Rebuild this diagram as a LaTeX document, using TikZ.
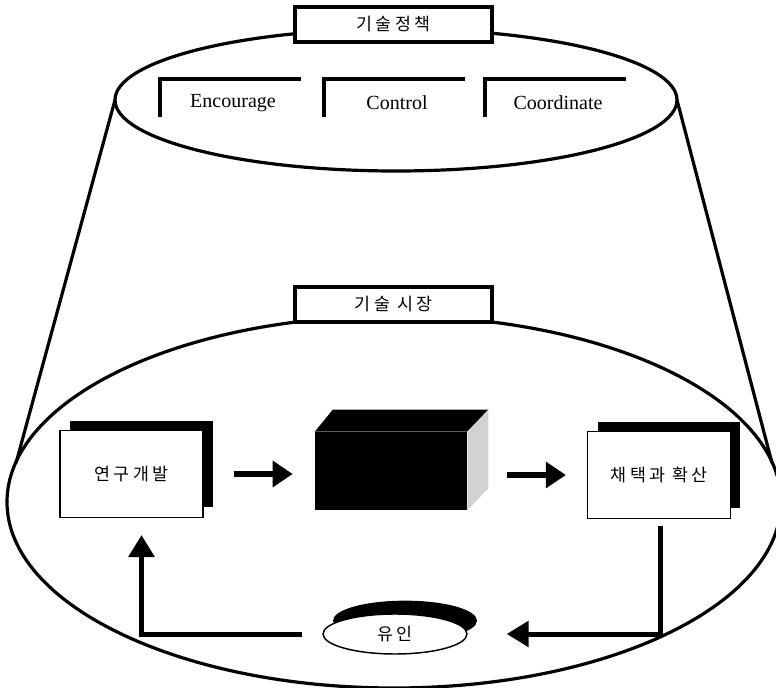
\documentclass[tikz,border=0pt]{standalone}
\usepackage{fontspec}
\setmainfont{Liberation Serif}
\newfontfamily\kr[LetterSpace=18]{Noto Sans CJK KR}
\usetikzlibrary{shapes.geometric,arrows.meta,calc}

\begin{document}
\begin{tikzpicture}[x=0.75pt,y=-0.75pt,
  rim/.style={line width=2.4pt},
  krtext/.style={font=\kr\fontsize{13}{15}\selectfont},
  tag/.style={draw, fill=white, line width=2.4pt, minimum width=147.75pt,
    minimum height=26.25pt, inner sep=0pt, krtext},
  hook/.style={line width=3.5pt},
  eng/.style={font=\fontsize{15}{17}\selectfont, inner sep=0pt},
  stage/.style={draw, fill=white, line width=1.1pt, inner sep=0pt,
    minimum width=107pt, minimum height=65pt, krtext,
    preaction={fill=black, transform canvas={xshift=7.5pt,yshift=7.5pt}}},
  flowar/.style={line width=4.5pt, -{Triangle[length=15pt,width=19pt]}},
  loopar/.style={line width=3.75pt, -{Triangle[length=16.5pt,width=19pt]}},
]
\useasboundingbox (0,0) rectangle (776,688);
\fill[white] (0,0) rectangle (776,688);
\clip (0,0) rectangle (776,688);

% the two rims of the cone
\coordinate (topC) at (396,100);
\coordinate (botC) at (394,502);
\draw[rim] (topC) ellipse [x radius=281, y radius=71];
\draw[rim] (botC) ellipse [x radius=387, y radius=186];

% side lines of the cone
\coordinate (tl) at (115,100);
\coordinate (tr) at (677,100);
\coordinate (bl) at (16,463);
\coordinate (br) at (772,463);
\draw[rim] (tl) -- (bl);
\draw[rim] (tr) -- (br);

% rim labels
\node[tag] (policy) at (393.5,24.5) {기술정책};
\node[tag] (market) at (393.5,304.5) {기술 시장};

% policy instruments with corner brackets
\node[eng] (enc) at (233,103) {Encourage};
\node[eng] (ctl) at (397,103) {Control};
\node[eng] (crd) at (558,103) {Coordinate};
\foreach \n in {enc,ctl,crd}
  \draw[hook] ($(\n)+(-73,14)$) |- ($(\n)+(68,-24)$);

% market stages
\node[stage] (rd) at (131.5,474) {연구개발};
\node[stage] (ad) at (659,475) {채택과 확산};

% product block
\node[fill=black, inner sep=0pt, minimum width=114pt, minimum height=58.5pt] (cube) at (391,471) {};
\fill (cube.north west) -- ++(18,-22) -- ($(cube.north east)+(21,-22)$) -- (cube.north east) -- cycle;
\fill[gray!35] (cube.north east) -- ++(21,-22) -- ($(cube.south east)+(21,-22)$) -- (cube.south east) -- cycle;

% inducement
\node[draw, ellipse, fill=white, line width=1.1pt, inner sep=0pt,
  minimum width=108pt, minimum height=30pt, krtext,
  preaction={fill=black, transform canvas={xshift=7.5pt,yshift=10pt}}] (ind) at (395,634) {유인};

% flow
\draw[flowar, shorten <=22.5pt, shorten >=16.5pt] (rd.east) -- (rd.east -| cube.west);
\draw[flowar, shorten <=30pt, shorten >=15.75pt] (ad.west -| cube.east) -- (ad.west);
\draw[loopar, shorten <=5.25pt, shorten >=29.25pt] ([xshift=0.75pt]ad.south) |- (ind.east);
\draw[loopar, shorten <=15pt, shorten >=12.75pt] (ind.west) -| ([xshift=7.5pt]rd.south);
\end{tikzpicture}
\end{document}
